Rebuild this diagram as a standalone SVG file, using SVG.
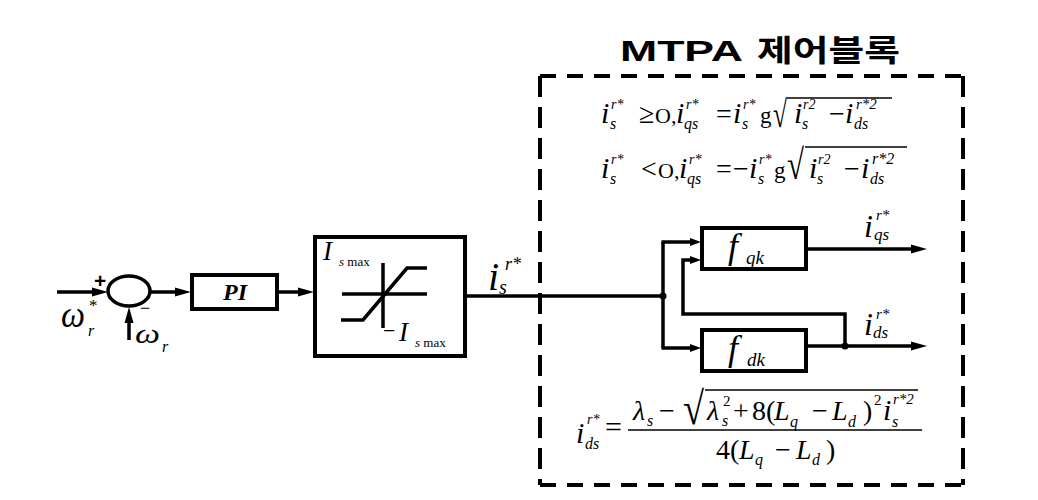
<svg xmlns="http://www.w3.org/2000/svg" width="1038" height="500" viewBox="0 0 1038 500">
<style>
.ln{fill:none;stroke:#000;stroke-width:3.5}
.bx{fill:#fff;stroke:#000;stroke-width:4}
.dl{fill:none;stroke:#000;stroke-width:4}
.ov{stroke:#000;stroke-width:1.3}
.t{font-family:"Liberation Serif",serif;font-style:italic;fill:#000}
.n{font-family:"Liberation Serif",serif;font-style:normal;fill:#000}
.sb{font-size:16px}
.sp{font-size:14px}
.big{font-size:30px}
.op{font-size:28px}
.ttl{font-family:"Liberation Sans","Noto Sans CJK KR",sans-serif;font-weight:bold;font-size:30px;fill:#000}
</style>
<defs>
<marker id="ah" markerUnits="userSpaceOnUse" markerWidth="16" markerHeight="10" refX="2" refY="5" orient="auto"><path d="M0,0.5 L16,5 L0,9.5 Z" fill="#000"/></marker>
<marker id="as" markerUnits="userSpaceOnUse" markerWidth="11" markerHeight="8" refX="2" refY="4" orient="auto"><path d="M0,0 L11,4 L0,8 Z" fill="#000"/></marker>
</defs>
<rect width="1038" height="500" fill="#fff"/>

<g id="title">
<text class="ttl" x="620" y="61" textLength="123" lengthAdjust="spacingAndGlyphs">MTPA</text>
<text class="ttl" x="757" y="61" textLength="143" lengthAdjust="spacingAndGlyphs">제어블록</text>
</g>

<g id="mtpa-block">
<line class="dl" x1="540" y1="76" x2="963" y2="76" stroke-dasharray="16 11"/>
<line class="dl" x1="540" y1="485" x2="963" y2="485" stroke-dasharray="16 11"/>
<line class="dl" x1="540" y1="76" x2="540" y2="485" stroke-dasharray="21 10"/>
<line class="dl" x1="963" y1="76" x2="963" y2="485" stroke-dasharray="21 10"/>
</g>

<g id="connectors">
<line class="ln" x1="57" y1="292" x2="94" y2="292" marker-end="url(#ah)"/>
<line class="ln" x1="129" y1="340" x2="129" y2="321" marker-end="url(#ah)"/>
<line class="ln" x1="150" y1="292" x2="177" y2="292" marker-end="url(#ah)"/>
<line class="ln" x1="277" y1="292" x2="300" y2="292" marker-end="url(#ah)"/>
<line class="ln" x1="465" y1="296" x2="663" y2="296"/>
<line class="ln" x1="663" y1="242" x2="663" y2="348"/>
<line class="ln" x1="661.5" y1="242" x2="692" y2="242" marker-end="url(#as)"/>
<line class="ln" x1="661.5" y1="348" x2="692" y2="348" marker-end="url(#as)"/>
<polyline class="ln" points="845,346 845,314 683,314 683,260 692,260" marker-end="url(#as)"/>
<line class="ln" x1="806" y1="249" x2="913" y2="249" marker-end="url(#ah)"/>
<line class="ln" x1="806" y1="346" x2="913" y2="346" marker-end="url(#ah)"/>
<circle cx="663" cy="296" r="3.5" fill="#000"/>
<circle cx="845" cy="346" r="3.5" fill="#000"/>
</g>

<g id="sum">
<ellipse cx="129" cy="291" rx="21" ry="15" fill="#fff" stroke="#000" stroke-width="3.5"/>
<text x="94" y="288" font-family="Liberation Sans,sans-serif" font-weight="bold" font-size="21">+</text>
<text class="n" x="89" y="311" font-size="17">*</text>
<text class="t" x="61" y="327" font-size="38" textLength="24" lengthAdjust="spacingAndGlyphs">ω</text>
<text class="t" x="88" y="336" font-size="16">r</text>
<text class="n" x="140" y="314" font-size="18">−</text>
<text class="t" x="135" y="343" font-size="27" textLength="25" lengthAdjust="spacingAndGlyphs">ω</text>
<text class="t" x="162" y="352" font-size="16">r</text>
</g>

<g id="pi">
<rect class="bx" x="192" y="275" width="85" height="34"/>
<text x="235" y="300" text-anchor="middle" font-family="Liberation Serif,serif" font-style="italic" font-weight="bold" font-size="24">PI</text>
</g>

<g id="limiter">
<rect class="bx" x="315" y="237" width="150" height="119"/>
<line class="ln" x1="342" y1="294" x2="427" y2="294"/>
<line class="ln" x1="383" y1="263" x2="383" y2="328"/>
<polyline class="ln" points="341,320 363,320 407,268 427,268"/>
<text class="t" x="323" y="260" font-size="27">I</text>
<text class="n" x="339" y="266" font-size="13"><tspan font-style="italic">s</tspan> max</text>
<text class="n" x="383" y="338" font-size="22">−</text>
<text class="t" x="399" y="341" font-size="27">I</text>
<text class="n" x="415" y="347" font-size="13"><tspan font-style="italic">s</tspan> max</text>
</g>

<g id="is-label">
<text class="t" x="488" y="290" font-size="40">i</text>
<text class="t" x="499" y="294" font-size="20">s</text>
<text class="t" x="505" y="270" font-size="18">r*</text>
</g>

<g id="fqk">
<rect class="bx" x="702" y="228" width="104" height="41"/>
<text class="t" x="728" y="258" font-size="36">f</text>
<text class="t" x="746" y="264" font-size="19">qk</text>
</g>

<g id="fdk">
<rect class="bx" x="702" y="330" width="104" height="41"/>
<text class="t" x="728" y="360" font-size="36">f</text>
<text class="t" x="747" y="366" font-size="19">dk</text>
</g>

<g id="iqs-label">
<text class="t" x="864" y="237" font-size="32">i</text>
<text class="t" x="874" y="240" font-size="17">qs</text>
<text class="t" x="876" y="220" font-size="15">r*</text>
</g>
<g id="ids-label">
<text class="t" x="864" y="335" font-size="32">i</text>
<text class="t" x="873" y="338" font-size="17">ds</text>
<text class="t" x="876" y="319" font-size="15">r*</text>
</g>

<g id="eq1">
<line class="ov" x1="787" y1="98" x2="892" y2="98"/>
<text class="t big" x="601" y="123">i</text>
<text class="t sb" x="610" y="129">s</text>
<text class="t sp" x="611" y="109">r*</text>
<text class="n op" x="639" y="123">≥</text>
<text class="n" x="655" y="123" font-size="22">O,</text>
<text class="t big" x="676" y="123">i</text>
<text class="t sb" x="684" y="129">qs</text>
<text class="t sp" x="686" y="109">r*</text>
<text class="n op" x="716" y="123">=</text>
<text class="t big" x="733" y="123">i</text>
<text class="t sb" x="742" y="129">s</text>
<text class="t sp" x="743" y="109">r*</text>
<text class="n" x="760" y="123" font-size="23">g</text>
<text class="n" x="773" y="127" font-size="38" textLength="14" lengthAdjust="spacingAndGlyphs">√</text>
<text class="t big" x="794" y="123">i</text>
<text class="t sp" x="803" y="109">r2</text>
<text class="t sb" x="802" y="129">s</text>
<text class="n op" x="829" y="123">−</text>
<text class="t big" x="845" y="123">i</text>
<text class="t sb" x="854" y="129">ds</text>
<text class="t" x="856" y="109" font-size="15">r*2</text>
</g>

<g id="eq2">
<line class="ov" x1="805" y1="147" x2="907" y2="147"/>
<text class="t big" x="601" y="178">i</text>
<text class="t sb" x="610" y="184">s</text>
<text class="t sp" x="611" y="164">r*</text>
<text class="n op" x="641" y="178">&lt;</text>
<text class="n" x="658" y="178" font-size="22">O,</text>
<text class="t big" x="679" y="178">i</text>
<text class="t sb" x="687" y="184">qs</text>
<text class="t sp" x="689" y="164">r*</text>
<text class="n op" x="716" y="178">=</text>
<text class="n op" x="733" y="178">−</text>
<text class="t big" x="749" y="178">i</text>
<text class="t sb" x="758" y="184">s</text>
<text class="t sp" x="759" y="164">r*</text>
<text class="n" x="774" y="178" font-size="23">g</text>
<text class="n" x="787" y="179" font-size="42" textLength="17" lengthAdjust="spacingAndGlyphs">√</text>
<text class="t big" x="809" y="178">i</text>
<text class="t sp" x="818" y="164">r2</text>
<text class="t sb" x="817" y="184">s</text>
<text class="n op" x="844" y="178">−</text>
<text class="t big" x="861" y="178">i</text>
<text class="t sb" x="870" y="184">ds</text>
<text class="t" x="872" y="164" font-size="16">r*2</text>
</g>

<g id="eq3">
<line x1="628" y1="430" x2="922" y2="430" stroke="#000" stroke-width="1.5"/>
<line class="ov" x1="705" y1="390" x2="918" y2="390"/>
<text class="t big" x="576" y="443">i</text>
<text class="t sp" x="587" y="424">r*</text>
<text class="t sb" x="585" y="449">ds</text>
<text class="n" x="605" y="437" font-size="30">=</text>
<text class="t op" x="633" y="420">λ</text>
<text class="t sb" x="647" y="426">s</text>
<text class="n op" x="659" y="420">−</text>
<text class="n" x="683" y="424" font-size="46" textLength="21" lengthAdjust="spacingAndGlyphs">√</text>
<text class="t op" x="707" y="420">λ</text>
<text class="n" x="723" y="406" font-size="15">2</text>
<text class="t sb" x="722" y="426">s</text>
<text class="n op" x="733" y="420">+</text>
<text class="n op" x="752" y="420">8(</text>
<text class="t op" x="774" y="420">L</text>
<text class="t sb" x="790" y="427">q</text>
<text class="n op" x="812" y="420">−</text>
<text class="t op" x="832" y="420">L</text>
<text class="t sb" x="848" y="427">d</text>
<text class="n op" x="863" y="420">)</text>
<text class="n" x="874" y="405" font-size="15">2</text>
<text class="t big" x="883" y="420">i</text>
<text class="t sb" x="892" y="427">s</text>
<text class="t" x="893" y="404" font-size="15">r*2</text>
<text class="n op" x="716" y="459">4(</text>
<text class="t op" x="739" y="459">L</text>
<text class="t sb" x="755" y="465">q</text>
<text class="n op" x="775" y="459">−</text>
<text class="t op" x="796" y="459">L</text>
<text class="t sb" x="812" y="465">d</text>
<text class="n op" x="826" y="459">)</text>
</g>
</svg>
